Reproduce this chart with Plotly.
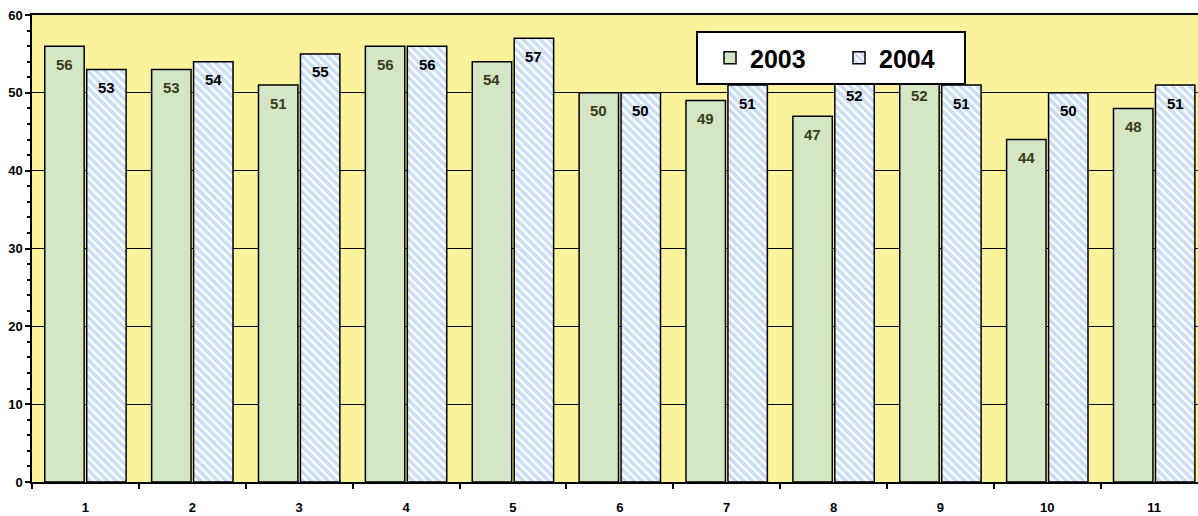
import plotly.graph_objects as go

categories = ["1", "2", "3", "4", "5", "6", "7", "8", "9", "10", "11"]
values_2003 = [56, 53, 51, 56, 54, 50, 49, 47, 52, 44, 48]
values_2004 = [53, 54, 55, 56, 57, 50, 51, 52, 51, 50, 51]
series_names = ["2003", "2004"]

FONT = "Liberation Sans, Arial, sans-serif"
BG_YELLOW = "rgb(250,243,155)"
GREEN = "rgb(212,230,196)"
BLUE = "rgb(145,185,233)"

BARGAP = 0.215
BARGROUPGAP = 0.06

fig = go.Figure()
fig.add_trace(go.Bar(
    x=categories, y=values_2003, name=series_names[0],
    marker=dict(color=GREEN, line=dict(color="black", width=1.5)),
    hoverinfo="skip",
))
fig.add_trace(go.Bar(
    x=categories, y=values_2004, name=series_names[1],
    marker=dict(color=BLUE, line=dict(color="black", width=1.5),
                pattern=dict(shape="\\", fgcolor=BLUE, bgcolor="white",
                             size=6, solidity=0.6)),
    hoverinfo="skip",
))

offset = (1 - BARGAP) / 4
annotations = []
for i, v in enumerate(values_2003):
    annotations.append(dict(x=i - offset, y=v, xref="x", yref="y", text=str(v),
                            showarrow=False, yanchor="middle", yshift=-18,
                            font=dict(family=FONT, size=15, color="#3a3a1c", weight="bold")))
for i, v in enumerate(values_2004):
    annotations.append(dict(x=i + offset, y=v, xref="x", yref="y", text=str(v),
                            showarrow=False, yanchor="middle", yshift=-18,
                            font=dict(family=FONT, size=15, color="black", weight="bold")))

# legend box (pixel geometry converted to paper coords)
L, T, W, H = 32, 15, 1166, 467
def px_x(p):
    return (p - L) / W
def px_y(p):
    return 1 - (p - T) / H

shapes = [
    dict(type="rect", xref="paper", yref="paper",
         x0=px_x(697), x1=px_x(965), y0=px_y(84), y1=px_y(32),
         fillcolor="white", line=dict(color="black", width=2), layer="above"),
]

fig.update_layout(
    width=1198, height=516,
    margin=dict(l=L, r=0, t=T, b=516 - T - H),
    paper_bgcolor="white",
    plot_bgcolor=BG_YELLOW,
    barmode="group",
    bargap=BARGAP,
    bargroupgap=BARGROUPGAP,
    showlegend=True,
    legend=dict(orientation="h", x=px_x(710), y=px_y(58), xanchor="left", yanchor="middle",
                bgcolor="rgba(0,0,0,0)", borderwidth=0,
                font=dict(family=FONT, size=25, color="black", weight="bold"),
                entrywidth=84, itemclick=False, itemdoubleclick=False),
    annotations=annotations,
    shapes=shapes,
    font=dict(family=FONT, color="black"),
)

fig.update_xaxes(
    type="category", range=[-0.5, 10.41],
    tickson="boundaries", ticks="outside", ticklen=5, tickwidth=1.5, tickcolor="black",
    showline=True, linecolor="black", linewidth=1.5, mirror=True,
    showgrid=False, zeroline=False,
    ticklabelstandoff=13,
    tickfont=dict(family=FONT, size=13, color="black", weight="bold"),
    fixedrange=True,
)
fig.update_yaxes(
    range=[0, 60], dtick=10, tick0=0,
    ticks="outside", ticklen=5, tickwidth=1.5, tickcolor="black",
    minor=dict(dtick=2, ticks="outside", ticklen=3, tickwidth=1.5, tickcolor="black", showgrid=False),
    showline=True, linecolor="black", linewidth=1.5,
    showgrid=True, gridcolor="black", gridwidth=1,
    zeroline=False,
    tickfont=dict(family=FONT, size=13, color="black", weight="bold"),
    fixedrange=True,
)

fig.write_html("out.html")
